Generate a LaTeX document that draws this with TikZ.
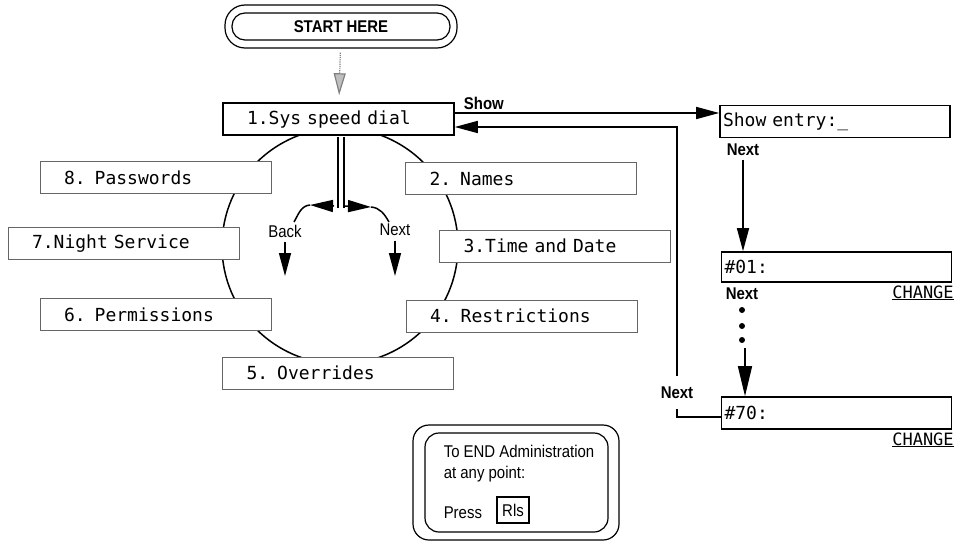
\documentclass[tikz,border=0pt]{standalone}
\usepackage{fontspec}
\usepackage{tikz}
\usetikzlibrary{arrows.meta}
\newfontfamily\lcd{DejaVu Sans Mono}
\newfontfamily\narrow{Liberation Sans}[FakeStretch=0.88]
\newcommand\lcdfont[1]{\lcd\fontsize{#1}{20}\selectfont\fontdimen2\font=0.602em\fontdimen3\font=0pt\fontdimen4\font=0pt\relax}
\tikzset{menu/.style={draw=black!60,fill=white,line width=1pt,minimum height=32pt,text width=183pt,inner xsep=24pt,align=left,font=\lcdfont{18}}}
\tikzset{disp/.style={draw,fill=white,line width=1.6pt,minimum height=32pt,text width=224pt,inner xsep=3pt,align=left,font=\lcdfont{18}}}
\tikzset{key/.style={font=\narrow\bfseries\fontsize{17}{19}\selectfont,inner sep=1pt}}
\tikzset{lbl/.style={font=\narrow\fontsize{17}{19}\selectfont,inner sep=1pt}}
\tikzset{chg/.style={font=\lcdfont{17},inner sep=0pt,anchor=base}}

\begin{document}
\begin{tikzpicture}[x=1pt,y=-1pt,line width=1.5pt,>={Triangle[length=23pt,width=12pt]}]
    \useasboundingbox (0,0) rectangle (964,543);
    \draw (340,246) circle (118pt);

    \node[draw,rounded corners=20pt,line width=1.2pt,minimum width=232pt,minimum height=43pt] (startout) at (341,26.5) {};
    \node[draw,rounded corners=13pt,line width=1.2pt,minimum width=218pt,minimum height=27pt,key] (start) at (341,26.5) {START HERE};

    \node[menu,draw=black,line width=1.5pt] (sys) at (338.5,119) {1.Sys speed dial};
    \node[menu] (names) at (521,178.5) {2. Names};
    \node[menu] (time) at (555,246) {3.Time and Date};
    \node[menu] (restr) at (521.5,316) {4. Restrictions};
    \node[menu] (over) at (338,373) {5. Overrides};
    \node[menu] (perm) at (155.5,314.5) {6. Permissions};
    \node[menu] (night) at (123.5,243.5) {7.Night Service};
    \node[menu] (pass) at (155.5,177.5) {8. Passwords};

    \draw[gray,line width=1.2pt,densely dotted,shorten <=4pt,shorten >=7pt,-{Triangle[length=22pt,width=12pt,fill=black!25]}] (startout) -- (sys);

    \coordinate (split) at (341,208);
    \draw[double,double distance=4.5pt,line width=1.3pt,shorten <=1pt] (sys.south -| split) -- (split);

    \node[lbl] (back) at (285,231) {Back};
    \node[lbl] (fwd) at (395,230) {Next};
    \coordinate (bl) at (334,206);
    \coordinate (bltip) at (310,205);
    \coordinate (br) at (345,206);
    \coordinate (brtip) at (371,207);
    \coordinate (backend) at (285,276);
    \coordinate (fwdend) at (397,276);
    \draw[->] (bl) -- (bltip);
    \draw (bltip) to[out=185,in=60] (294,222);
    \draw[->] (br) -- (brtip);
    \draw (brtip) to[out=-5,in=120] (389,222);
    \draw[->,shorten <=3pt] (back) -- (backend);
    \draw[->,shorten <=3pt] (fwd) -- (fwd |- fwdend);

    \node[disp] (entry) at (835,121.5) {Show entry:\_};
    \node[disp,minimum height=30pt] (n01) at (836.5,267) {\#01:};
    \node[disp] (n70) at (836.5,413) {\#70:};

    \draw[->] ([yshift=6pt]sys.east) -- ([yshift=6pt]sys.east -| entry.west) node[key,pos=0.11,above=2pt] (show) {Show};

    \coordinate (retcorner) at (677,127);
    \draw[->] ([yshift=-4pt]n70.west) -| (retcorner) -- (retcorner -| sys.east);
    \node[key,fill=white,inner ysep=11pt] (back70) at (677,392.5) {Next};

    \node[key] (next1) at (743,150) {Next};
    \draw[->,shorten <=2pt] (next1) -- (next1 |- n01.north);

    \node[key] (next2) at (742,294) {Next};
    \node[chg] (chg1) at (923,298) {\underline{CHANGE}};
    \node[chg] (chg2) at (923,445) {\underline{CHANGE}};
    \foreach \y in {310,326,340}
        \fill (742,\y) circle (3pt);
    \coordinate (dotsend) at (745,348);
    \draw[-{Triangle[length=30pt,width=14pt]}] (dotsend) -- (dotsend |- n70.north);

    \node[draw,rounded corners=16pt,line width=1.2pt,minimum width=206pt,minimum height=115pt] (endout) at (516,482.5) {};
    \node[draw,rounded corners=14pt,line width=1.2pt,minimum width=183pt,minimum height=99pt] (endin) at (516.5,482.5) {};
    \node[lbl,anchor=base west] (endl1) at (442,457) {To END Administration};
    \node[lbl,anchor=base west] (endl2) at (442,478) {at any point:};
    \node[lbl,anchor=base west] (press) at (442,518) {Press};
    \node[lbl,draw,line width=1.2pt,minimum width=32pt,minimum height=26pt] (rls) at (513,510) {Rls};
\end{tikzpicture}
\end{document}
